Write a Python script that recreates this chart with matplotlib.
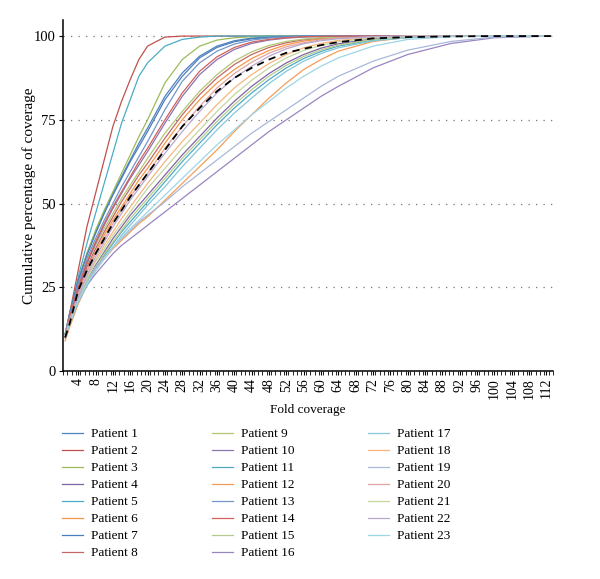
import numpy as np
import matplotlib.pyplot as plt

plt.rcParams['font.family'] = ['Liberation Serif', 'DejaVu Serif']

fold = [1, 2, 4, 6, 8, 10, 12, 14, 16, 18, 20, 24, 28, 32, 36, 40, 44, 48, 52, 56, 60, 64, 72, 80, 90, 100, 113]

# cumulative percentage of coverage per patient
p01 = [11, 17, 27, 35, 41.5, 47.5, 53, 58, 63, 68, 72.5, 82, 89, 94, 97, 98.6, 99.4, 99.7, 99.9, 100, 100, 100, 100, 100, 100, 100, 100]
p02 = [10, 17, 30, 43, 53, 63, 73, 80.5, 87, 93, 97, 99.7, 100, 100, 100, 100, 100, 100, 100, 100, 100, 100, 100, 100, 100, 100, 100]
p03 = [11, 17, 27, 35, 42, 48, 53.5, 59, 64.5, 70, 75, 86, 93, 97, 98.8, 99.5, 99.8, 100, 100, 100, 100, 100, 100, 100, 100, 100, 100]
p04 = [10, 14, 21, 27, 31.5, 35.5, 39.5, 43, 46.5, 49.5, 52.5, 58.5, 64.5, 70, 75.5, 80.5, 85, 88.8, 92, 94.5, 96.4, 97.7, 99.2, 99.8, 100, 100, 100]
p05 = [10, 16, 28, 38, 47, 56, 65, 74, 81, 88, 92, 97, 99, 99.7, 100, 100, 100, 100, 100, 100, 100, 100, 100, 100, 100, 100, 100]
p06 = [10, 15, 23, 30, 35.5, 40.5, 45, 49, 53, 57, 60.5, 68, 75, 81, 86, 90, 93.3, 95.7, 97.4, 98.5, 99.1, 99.5, 99.9, 100, 100, 100, 100]
p07 = [11, 17, 27, 34.5, 41, 47, 52.5, 57.5, 62.5, 67, 71.5, 81, 88, 93.5, 96.6, 98.3, 99.2, 99.6, 99.8, 100, 100, 100, 100, 100, 100, 100, 100]
p08 = [10, 15, 24, 31, 36.5, 41.5, 46, 50.5, 54.5, 58.5, 62, 69.5, 76.5, 82.5, 87.5, 91.5, 94.5, 96.6, 98, 98.9, 99.4, 99.7, 99.9, 100, 100, 100, 100]
p09 = [11, 16, 25, 32, 37.5, 42.5, 47, 51.5, 55.5, 59.5, 63.5, 71, 77.5, 83.5, 88.5, 92.5, 95.3, 97.2, 98.4, 99.1, 99.5, 99.7, 99.9, 100, 100, 100, 100]
p10 = [10, 15, 24, 32, 38, 43.5, 48.5, 53, 57.5, 61.5, 65.5, 74, 82, 88.5, 93, 96, 97.8, 98.8, 99.4, 99.7, 99.9, 100, 100, 100, 100, 100, 100]
p11 = [10, 14, 21, 26, 30.5, 34.5, 38, 41.5, 44.5, 47.5, 50.5, 56.5, 62.5, 68, 73.5, 78.5, 83, 87, 90.5, 93.3, 95.4, 97, 98.8, 99.6, 100, 100, 100]
p12 = [9, 13, 20, 25.5, 30, 33.5, 36.5, 39, 41.5, 44, 46, 51, 56, 61, 66, 71.5, 76.5, 81.5, 86, 90, 93, 95.5, 98.4, 99.6, 100, 100, 100]
p13 = [11, 16, 26, 33.5, 39.5, 45, 50, 55, 59.5, 64, 68.5, 78, 86.5, 92, 95.5, 97.6, 98.8, 99.4, 99.7, 99.9, 100, 100, 100, 100, 100, 100, 100]
p14 = [10, 16, 25, 32.5, 38.5, 44, 49, 53.5, 58, 62.5, 66.5, 75, 83, 89.5, 93.8, 96.6, 98.2, 99, 99.5, 99.8, 99.9, 100, 100, 100, 100, 100, 100]
p15 = [10, 14, 21, 26.5, 31, 35, 38.5, 42, 45.5, 48.5, 51.5, 57.5, 63.5, 69, 74.5, 79.5, 84, 88, 91.3, 93.9, 95.9, 97.3, 99, 99.7, 100, 100, 100]
p16 = [10, 14, 21, 25.5, 29, 32, 35, 37.5, 39.5, 41.5, 43.5, 47.5, 51.5, 55.5, 59.5, 63.5, 67.5, 71.5, 75, 78.5, 82, 85, 90.5, 94.5, 97.8, 99.5, 100]
p17 = [10, 14, 20.5, 25.5, 30, 33.5, 37, 40.5, 43.5, 46.5, 49.5, 55, 61, 66.5, 72, 77, 81.5, 85.8, 89.5, 92.5, 94.8, 96.5, 98.6, 99.5, 100, 100, 100]
p18 = [10, 14, 22, 28, 33, 37.5, 41.5, 45.5, 49, 52.5, 56, 62.5, 68.5, 74, 79.5, 84.5, 88.5, 91.8, 94.5, 96.5, 97.8, 98.7, 99.6, 100, 100, 100, 100]
p19 = [10, 15, 22, 27, 31, 34, 37, 39.5, 42, 44.5, 46.5, 50.5, 55, 59, 63, 67, 71, 74.5, 78, 81.5, 85, 88, 92.5, 95.8, 98.4, 99.7, 100]
p20 = [10, 15, 23, 29.5, 35, 39.5, 44, 48, 52, 55.5, 59, 66.5, 73, 79, 84.5, 88.8, 92.2, 94.9, 96.8, 98, 98.9, 99.4, 99.8, 100, 100, 100, 100]
p21 = [10, 14, 22, 27.5, 32.5, 36.5, 40.5, 44, 47.5, 51, 54.5, 60.5, 66.5, 72, 77.5, 82.5, 86.8, 90.5, 93.5, 95.7, 97.2, 98.3, 99.5, 99.9, 100, 100, 100]
p22 = [10, 14, 22, 28.5, 34, 38.5, 43, 47, 51, 54.5, 58, 65, 71.5, 77.5, 83, 87.5, 91, 94, 96.2, 97.7, 98.6, 99.2, 99.8, 100, 100, 100, 100]
p23 = [10, 14, 21, 26, 30, 33.5, 37, 40, 42.5, 45, 47.5, 52.5, 57.5, 62.5, 67.5, 72, 76.5, 80.5, 84.5, 88, 91, 93.5, 97, 99, 99.8, 100, 100]
mean_cov = [10, 14, 24, 30, 35, 39.5, 44, 48, 52, 55.5, 59, 66, 73, 78.5, 83.5, 87.5, 90.5, 93, 95, 96.2, 97.3, 98.2, 99.3, 99.7, 99.9, 100, 100]

patients = [p01, p02, p03, p04, p05, p06, p07, p08, p09, p10, p11, p12,
            p13, p14, p15, p16, p17, p18, p19, p20, p21, p22, p23]
labels = ['Patient %d' % (i + 1) for i in range(len(patients))]

colors = ['#4F81BD', '#C0504D', '#9BBB59', '#8064A2', '#4BACC6', '#F79646',
          '#4A7EBB', '#C26966', '#B0C774', '#8C74B0', '#4FA9C3', '#F59D56',
          '#7397CA', '#D0605C', '#B5CC8C', '#9985C0', '#84C7DB', '#F8B57D',
          '#A9B8D9', '#E2A3A2', '#C5D6A0', '#B7A9CF', '#9FD6E6']

fig = plt.figure(figsize=(6.0, 5.79), dpi=100)
ax = fig.add_axes([63 / 600, 1 - 371 / 579, 490 / 600, 351 / 579])

for vals, lab, col in zip(patients, labels, colors):
    ax.plot(fold, vals, color=col, lw=0.9, label=lab)
ax.plot(fold, mean_cov, color='black', lw=1.3, ls=(0, (4, 3)))

ax.set_xlim(0.5, 113.5)
ax.set_ylim(0, 104.8)
ax.set_yticks([0, 25, 50, 75, 100])
for v in [25, 50, 75, 100]:
    ax.axhline(v, color='#777777', lw=0.9, ls=(0, (1, 5)), zorder=0)

ax.set_xticks(np.arange(4, 113, 4))
ax.set_xticks(np.arange(0.5, 114, 1), minor=True)
ax.tick_params(axis='x', which='major', labelrotation=90, length=3, labelsize=10, pad=2)
ax.tick_params(axis='x', which='minor', length=3)
ax.tick_params(axis='y', length=3, labelsize=10.5, pad=2)

for s in ['top', 'right']:
    ax.spines[s].set_visible(False)
for s in ['left', 'bottom']:
    ax.spines[s].set_linewidth(1.1)

ax.set_xlabel('Fold coverage', fontsize=9.5, labelpad=4)
ax.set_ylabel('Cumulative percentage of coverage', fontsize=11)
ax.yaxis.set_label_coords(-0.055, 0.5)

fig.legend(loc='upper left', bbox_to_anchor=(62 / 600, 1 - 428 / 579), ncol=3,
           frameon=False, fontsize=9.5, handlelength=1.6, handletextpad=0.6,
           columnspacing=5.6, labelspacing=0.36, borderaxespad=0, borderpad=0)

fig.savefig('out.png', dpi=100)
